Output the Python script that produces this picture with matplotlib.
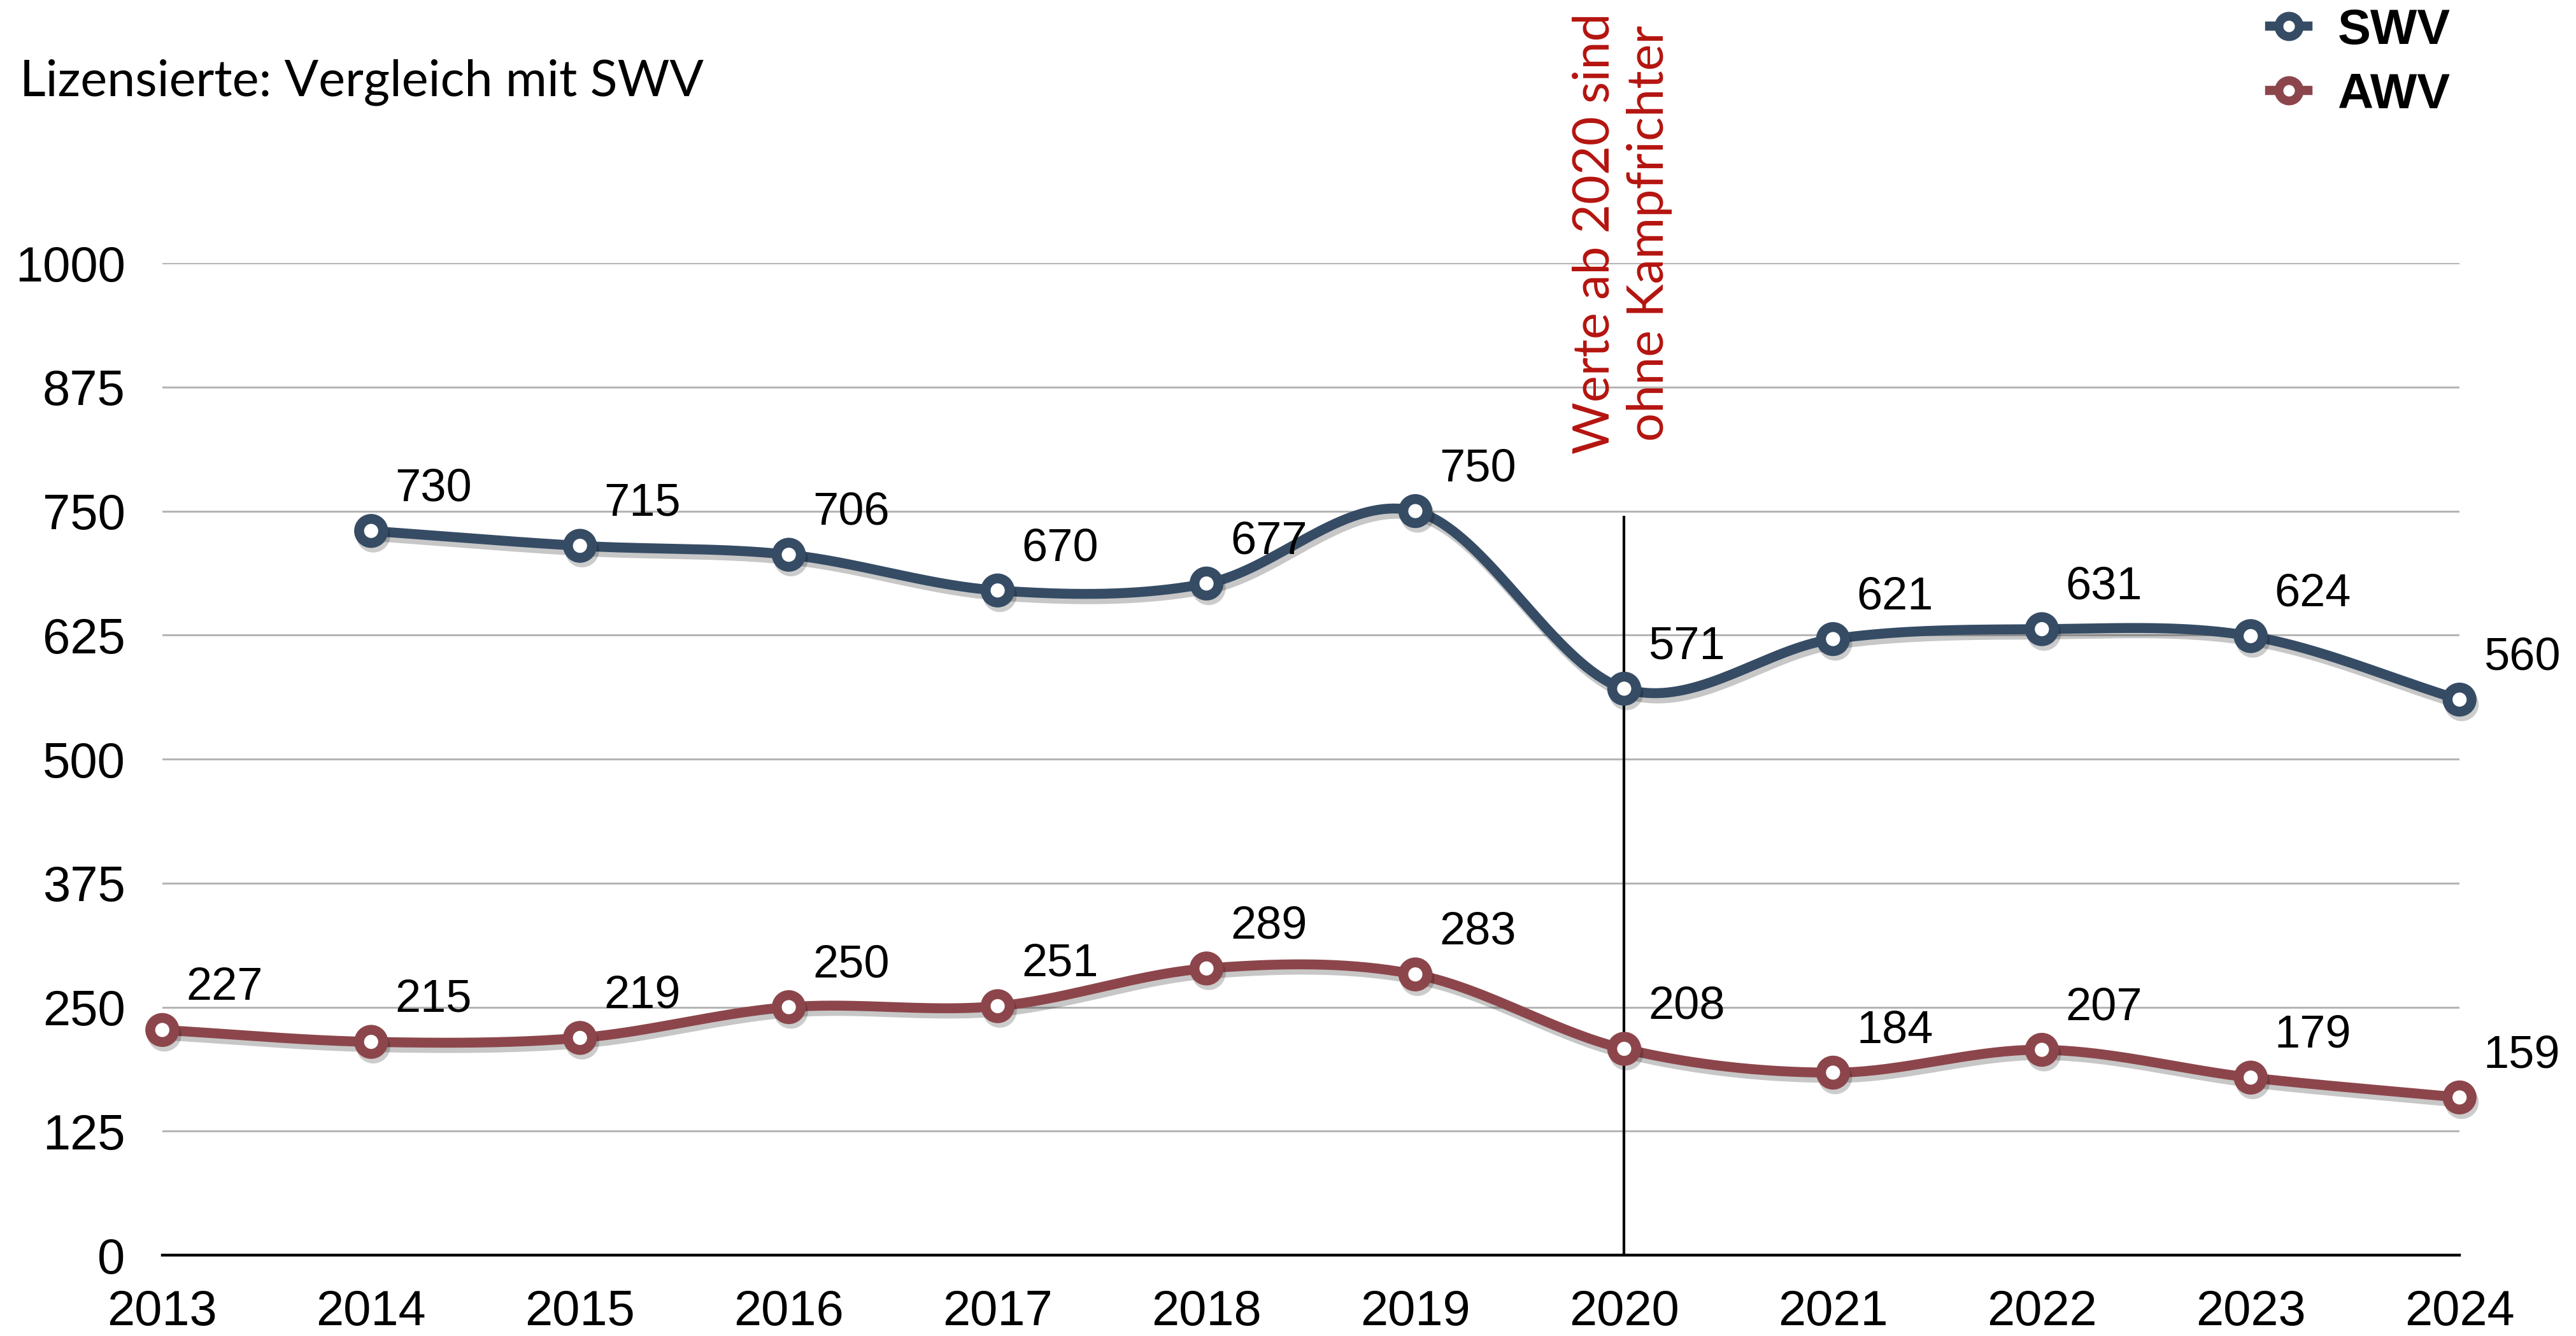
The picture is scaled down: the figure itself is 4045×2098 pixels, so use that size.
import numpy as np
import matplotlib
matplotlib.use("Agg")
import matplotlib.pyplot as plt
from matplotlib.lines import Line2D
import matplotlib.patheffects as pe

# ---- data ----
years = [2013, 2014, 2015, 2016, 2017, 2018, 2019, 2020, 2021, 2022, 2023, 2024]
swv = [np.nan, 730, 715, 706, 670, 677, 750, 571, 621, 631, 624, 560]
awv = [227, 215, 219, 250, 251, 289, 283, 208, 184, 207, 179, 159]
y_ticks = [0, 125, 250, 375, 500, 625, 750, 875, 1000]
series_names = ["SWV", "AWV"]
subtitle = "Lizensierte: Vergleich mit SWV"
note = "Werte ab 2020 sind\nohne Kampfrichter"
note_year = 2020
note_line_top = 745

col_swv = "#364c65"
col_awv = "#8c464b"
col_note = "#b5140f"

NUM_FONT = ["Liberation Sans", "DejaVu Sans"]
TXT_FONT = ["Lato", "DejaVu Sans"]


def smooth(x, y, n=40, c=0.5):
    """Cardinal spline through the given points (rendering only)."""
    x = np.asarray(x, float)
    y = np.asarray(y, float)
    k = len(x)
    mx = np.zeros(k)
    my = np.zeros(k)
    for i in range(k):
        if i == 0:
            mx[i], my[i] = (x[1] - x[0]), (y[1] - y[0])
        elif i == k - 1:
            mx[i], my[i] = (x[-1] - x[-2]), (y[-1] - y[-2])
        else:
            mx[i], my[i] = c * (x[i + 1] - x[i - 1]), c * (y[i + 1] - y[i - 1])
    xs, ys = [], []
    t = np.linspace(0, 1, n)
    h00 = 2 * t**3 - 3 * t**2 + 1
    h10 = t**3 - 2 * t**2 + t
    h01 = -2 * t**3 + 3 * t**2
    h11 = t**3 - t**2
    for i in range(k - 1):
        xs.append(h00 * x[i] + h10 * mx[i] + h01 * x[i + 1] + h11 * mx[i + 1])
        ys.append(h00 * y[i] + h10 * my[i] + h01 * y[i + 1] + h11 * my[i + 1])
    return np.concatenate(xs), np.concatenate(ys)


fig = plt.figure(figsize=(20.225, 10.49), dpi=200)
ax = fig.add_axes([0.0630, 0.0605, 0.8918, 0.7426])

ax.set_xlim(years[0], years[-1])
ax.set_ylim(0, 1000)
ax.set_yticks(y_ticks)
ax.set_xticks(years)
ax.yaxis.grid(True, color="#b5b5b5", lw=1.1)
ax.set_axisbelow(True)
for s in ["top", "right", "left"]:
    ax.spines[s].set_visible(False)
ax.spines["bottom"].set_color("black")
ax.spines["bottom"].set_linewidth(1.6)
ax.spines["bottom"].set_zorder(5)
ax.tick_params(axis="both", length=0, labelsize=28)
ax.tick_params(axis="y", pad=21)
ax.tick_params(axis="x", pad=19)
for lab in ax.get_xticklabels() + ax.get_yticklabels():
    lab.set_family(NUM_FONT)

# vertical note line
ax.vlines(note_year, 0, note_line_top, color="black", lw=1.5, zorder=3)

line_shadow = [pe.SimpleLineShadow(offset=(1.5, -3.0), shadow_color="black", alpha=0.22), pe.Normal()]
mark_shadow = [pe.SimpleLineShadow(offset=(1.2, -2.6), shadow_color="black", alpha=0.2), pe.Normal()]

for vals, col in [(swv, col_swv), (awv, col_awv)]:
    xv = [x for x, v in zip(years, vals) if not np.isnan(v)]
    yv = [v for v in vals if not np.isnan(v)]
    sx, sy = smooth(xv, yv)
    ax.plot(sx, sy, color=col, lw=5.6, solid_capstyle="round", zorder=4,
            path_effects=line_shadow, clip_on=False)
    ax.plot(xv, yv, ls="none", marker="o", ms=13.6, mew=5.6, mfc="white",
            mec=col, zorder=6, clip_on=False, path_effects=mark_shadow)
    for x, v in zip(xv, yv):
        ax.annotate(f"{v:g}", (x, v), xytext=(13.5, 17), textcoords="offset points",
                    ha="left", va="baseline", fontsize=26, family=NUM_FONT,
                    color="black", zorder=7, annotation_clip=False)

# note text
ax.text(note_year - 0.01, 1030, note, rotation=90, ha="center", va="center",
        multialignment="center", fontsize=28.5, color=col_note, family=TXT_FONT,
        linespacing=1.24, clip_on=False)

# subtitle
fig.text(31 / 4045, 1 - 129 / 2098, subtitle, ha="left", va="center",
         fontsize=28.5, family=TXT_FONT, color="black")

# legend
handles = [Line2D([], [], color=c, lw=5.2, marker="o", ms=11.5, mew=5.0, mfc="white", mec=c)
           for c in (col_swv, col_awv)]
leg = fig.legend(handles, series_names, loc="upper left",
                 bbox_to_anchor=(3525 / 4045, 1.013), frameon=False, borderpad=0,
                 handlelength=0.77, handletextpad=0.6, labelspacing=0.36,
                 prop={"family": NUM_FONT, "weight": "bold", "size": 28})

fig.savefig("out.png", dpi=200)
